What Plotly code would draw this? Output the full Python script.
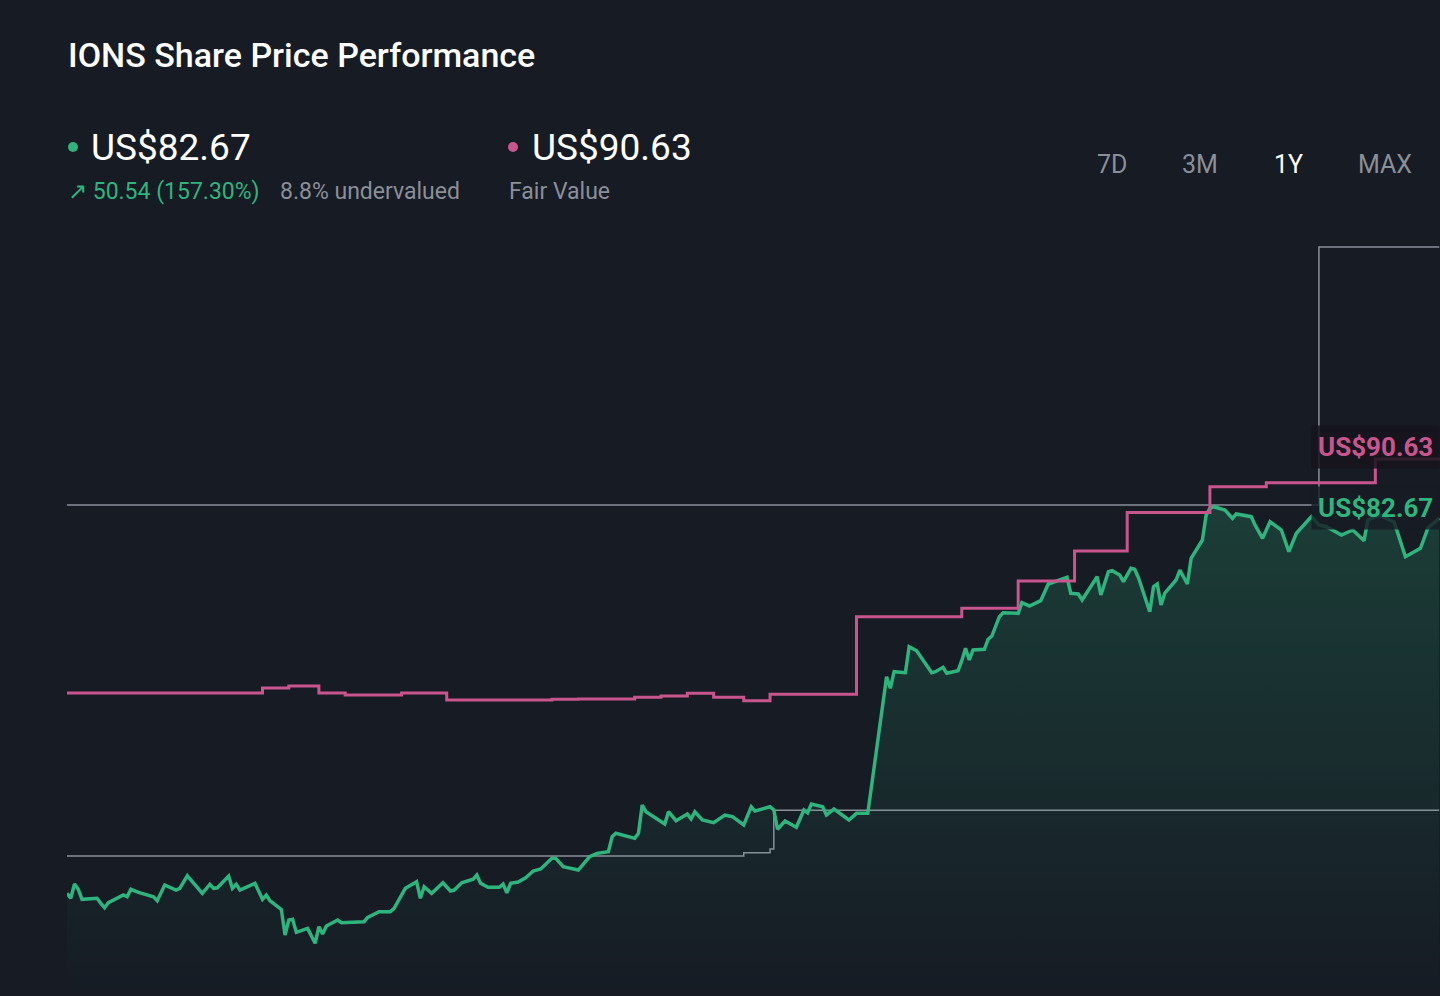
import plotly.graph_objects as go

# share price (day index within the 1Y window, US$)
price_days = [0, 1, 2, 3, 4, 8, 9, 10, 11, 15,
              16, 17, 19, 22, 23, 24, 26, 29, 30, 32,
              34, 36, 38, 39, 40, 43, 44, 45, 46, 50,
              52, 53, 54, 57, 58, 59, 60, 61, 64, 66,
              67, 68, 69, 72, 73, 79, 80, 82, 83, 86,
              87, 90, 93, 94, 95, 97, 100, 102, 103, 105,
              108, 109, 110, 112, 115, 116, 117, 118, 120, 122,
              124, 126, 129, 130, 132, 136, 139, 141, 144, 145,
              146, 151, 152, 153, 154, 159, 160, 162, 165, 166,
              167, 169, 172, 175, 177, 180, 182, 183, 187, 188,
              189, 191, 194, 196, 197, 198, 201, 202, 204, 208,
              210, 213, 218, 219, 220, 223, 224, 226, 230, 231,
              233, 234, 237, 238, 239, 240, 241, 244, 245, 246,
              248, 249, 253, 254, 256, 259, 261, 266, 267, 269,
              270, 274, 275, 277, 278, 280, 281, 283, 284, 285,
              288, 289, 290, 291, 292, 295, 296, 298, 299, 302,
              303, 304, 305, 308, 310, 311, 315, 316, 318, 320,
              323, 325, 327, 331, 333, 335, 339, 342, 345, 346,
              349, 353, 356, 360, 362, 365]
price_vals = [32.09, 31.42, 33.34, 32.63, 31.28, 31.42, 30.74, 30.15, 30.82, 31.86,
              31.63, 32.63, 32.22, 31.77, 31.63, 31.09, 33.21, 32.53, 32.76, 34.46,
              33.21, 32.09, 33.30, 32.76, 32.84, 34.42, 32.76, 33.30, 32.53, 33.44,
              31.28, 31.86, 31.09, 29.93, 26.47, 28.49, 28.58, 26.83, 27.37, 25.35,
              27.59, 26.60, 27.68, 28.49, 28.13, 28.26, 28.85, 29.39, 29.61, 29.61,
              30.07, 32.76, 33.65, 31.42, 32.98, 32.09, 33.52, 32.40, 32.53, 33.52,
              33.98, 34.56, 33.44, 32.90, 32.90, 33.34, 32.17, 33.44, 33.61, 34.19,
              35.10, 35.37, 36.81, 36.81, 35.68, 35.23, 37.02, 37.48, 37.70, 39.72,
              40.18, 39.50, 40.18, 43.99, 43.09, 41.43, 43.09, 41.88, 42.78, 42.11,
              43.09, 41.97, 41.61, 42.64, 42.42, 41.30, 43.76, 43.18, 43.76, 43.32,
              40.72, 41.84, 40.99, 43.32, 42.95, 44.13, 43.76, 42.64, 43.45, 41.97,
              42.87, 42.87, 61.29, 59.72, 61.96, 61.83, 65.33, 64.79, 61.83, 61.96,
              62.55, 61.75, 62.10, 63.44, 65.12, 63.54, 64.89, 64.98, 66.33, 66.77,
              69.38, 69.91, 69.83, 71.26, 70.82, 71.53, 73.78, 74.69, 72.53, 72.44,
              71.63, 74.77, 72.30, 75.44, 75.58, 75.00, 74.09, 75.90, 75.77, 74.63,
              70.05, 73.42, 73.78, 70.95, 72.57, 74.32, 75.67, 73.78, 77.25, 79.71,
              83.08, 83.99, 84.20, 83.76, 82.64, 83.22, 82.86, 81.74, 79.94, 82.18,
              81.06, 78.14, 80.62, 82.86, 81.74, 81.51, 80.39, 81.06, 79.62, 82.41,
              83.08, 82.14, 77.46, 78.60, 81.33, 82.67]

# fair value estimate (step changes)
fv_days = [0, 52, 59, 67, 74, 89, 101, 129, 136, 151, 158, 165, 172, 180, 187,
           210, 238, 253, 268, 282, 304, 319, 348, 365]
fv_vals = [59.09, 59.76, 60.03, 59.09, 58.82, 59.09, 58.15, 58.24, 58.28, 58.51,
           58.69, 59.05, 58.51, 58.05, 58.92, 69.38, 70.51, 74.19, 78.23, 83.42,
           86.90, 87.44, 90.63, 90.63]

# grey reference lines
upper_days = [0, 333, 365]
upper_vals = [84.43, 119.21, 119.21]
lower_days = [0, 180, 187, 188, 365]
lower_vals = [37.12, 37.56, 38.06, 43.28, 43.28]

last_price = "US$82.67"
fair_value = "US$90.63"
change_txt = "↗ 50.54 (157.30%)"
valuation_txt = "8.8% undervalued"
ranges = ["7D", "3M", "1Y", "MAX"]

BG = "#161b24"
GREEN = "#2eb57d"
PINK = "#c9558f"
GREY = "#8a8f98"
W, H = 1440, 996

fig = go.Figure()

fig.add_trace(go.Scatter(x=upper_days, y=upper_vals, mode="lines", line_shape="hv",
                         line=dict(color=GREY, width=1.5), hoverinfo="skip"))
fig.add_trace(go.Scatter(x=lower_days, y=lower_vals, mode="lines", line_shape="hv",
                         line=dict(color=GREY, width=1.5), hoverinfo="skip"))
fig.add_trace(go.Scatter(
    x=price_days, y=price_vals, mode="lines",
    line=dict(color=GREEN, width=3.5),
    fill="tozeroy",
    fillgradient=dict(type="vertical", start=18, stop=90,
                      colorscale=[[0, "rgba(46,181,125,0)"], [1, "rgba(46,181,125,0.24)"]]),
))
fig.add_trace(go.Scatter(x=fv_days, y=fv_vals, mode="lines", line_shape="hv",
                         line=dict(color=PINK, width=3)))


def px(x):
    return x / W


def py(y):
    return 1 - y / H


ann = []
ann.append(dict(x=px(66), y=py(55), text="IONS Share Price Performance",
                font=dict(size=34, color="#ffffff", weight=500)))
ann.append(dict(x=px(89), y=py(147), text=last_price, font=dict(size=37, color="#ffffff")))
ann.append(dict(x=px(530), y=py(147), text=fair_value, font=dict(size=37, color="#ffffff")))
ann.append(dict(x=px(66), y=py(192), text=change_txt, font=dict(size=23, color=GREEN)))
ann.append(dict(x=px(278), y=py(192), text=valuation_txt, font=dict(size=23, color=GREY)))
ann.append(dict(x=px(507), y=py(192), text="Fair Value", font=dict(size=23, color=GREY)))
for a in ann:
    a.update(xref="paper", yref="paper", xanchor="left", yanchor="middle", showarrow=False)

for label, cx in zip(ranges, [1112, 1200, 1288, 1385]):
    ann.append(dict(x=px(cx), y=py(164), xref="paper", yref="paper", text=label,
                    showarrow=False, xanchor="center", yanchor="middle",
                    font=dict(size=25, color="#ffffff" if label == "1Y" else GREY)))

ann.append(dict(x=px(1311), y=fv_vals[-1], xref="paper", yref="y", yshift=12,
                text=fair_value, showarrow=False, xanchor="left", yanchor="middle",
                bgcolor="rgba(22,20,28,0.85)", borderpad=6,
                font=dict(size=26, color=PINK, weight="bold")))
ann.append(dict(x=px(1311), y=price_vals[-1], xref="paper", yref="y", yshift=10,
                text=last_price, showarrow=False, xanchor="left", yanchor="middle",
                bgcolor="rgba(22,27,36,0.8)", borderpad=6,
                font=dict(size=26, color=GREEN, weight="bold")))

shapes = [
    dict(type="circle", xref="paper", yref="paper", x0=px(68), x1=px(78), y0=py(152), y1=py(142),
         fillcolor=GREEN, line_width=0),
    dict(type="circle", xref="paper", yref="paper", x0=px(508), x1=px(518), y0=py(152), y1=py(142),
         fillcolor=PINK, line_width=0),
]

fig.update_layout(
    width=W, height=H,
    margin=dict(l=0, r=0, t=0, b=0),
    paper_bgcolor=BG, plot_bgcolor=BG,
    showlegend=False,
    font=dict(family="Roboto, sans-serif"),
    xaxis=dict(domain=[67 / W, 1], range=[0, 365.2], visible=False),
    yaxis=dict(domain=[0, 1 - 215 / H], range=[18.25, 123.52], visible=False),
    annotations=ann,
    shapes=shapes,
    hovermode=False,
)

# drop the default page margin so the figure fills the window
fig.write_html("out.html", config={"displayModeBar": False},
               post_script="document.body.style.margin='0';document.body.style.background='#161b24';")
